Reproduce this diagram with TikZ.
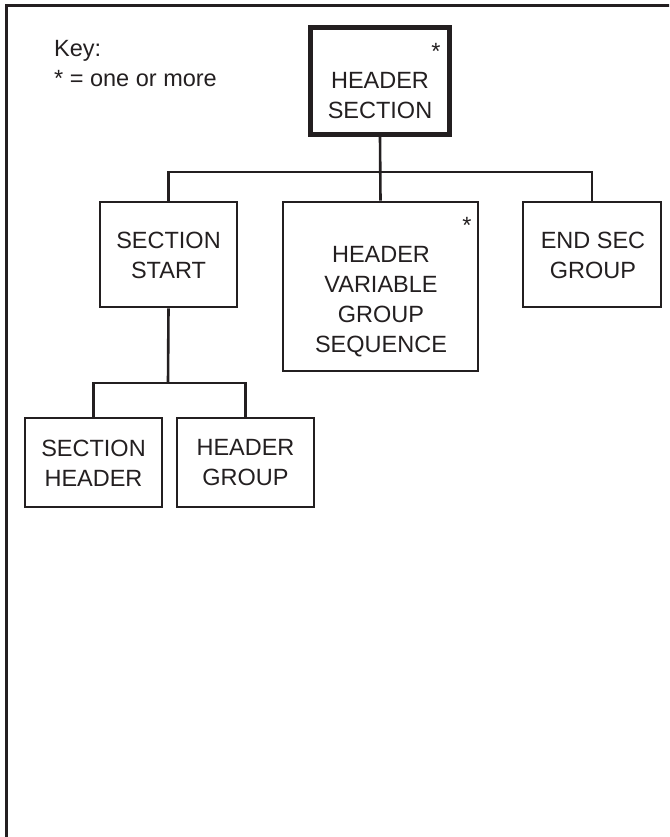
\documentclass[tikz,border=0pt]{standalone}
\usepackage{fontspec}
\setmainfont{Liberation Sans}
\definecolor{ink}{RGB}{35,31,32}
\begin{document}
\begin{tikzpicture}[x=1pt,y=-1pt,
  every node/.style={text=ink},
  boxn/.style={draw=ink, line width=2.6pt, rectangle, inner sep=0pt, minimum width=137pt, minimum height=105pt},
  lbl/.style={align=center, inner sep=0pt, font=\fontsize{23.5}{30}\selectfont},
  star/.style={inner sep=0pt, anchor=base, font=\fontsize{23.5}{28}\selectfont},
  keytxt/.style={inner sep=0pt, anchor=base west, font=\fontsize{23.5}{28}\selectfont},
  conn/.style={draw=ink, line width=2.6pt}]
\useasboundingbox (0,0) rectangle (669,837);
\begin{scope}
\clip (0,0) rectangle (669,837);
\draw[draw=ink, line width=3.2pt] (6.5,845) -- (6.5,5.5) -- (680,5.5);
\end{scope}

% key
\node[keytxt] (key1) at (54,57) {Key:};
\node[keytxt] (key2) at (54,87) {* = one or more};

% boxes
\node[boxn, line width=5pt, minimum width=138.5pt, minimum height=107pt] (hs) at (380,81) {};
\node[boxn] (ss) at (168.5,254.5) {};
\node[boxn, minimum width=195pt, minimum height=169pt] (hvgs) at (380.5,286.5) {};
\node[boxn, minimum width=138pt] (esg) at (592,254.5) {};
\node[boxn, minimum height=89pt] (sh) at (93.5,462.5) {};
\node[boxn, minimum height=89pt] (hg) at (245.5,462.5) {};

% labels
\node[lbl] (hsT) at (380,96) {HEADER\\SECTION};
\node[lbl] (ssT) at (168.5,255) {SECTION\\START};
\node[lbl] (hvgsT) at (381,302) {HEADER\\VARIABLE\\GROUP\\SEQUENCE};
\node[lbl] (esgT) at (593,255) {END SEC\\GROUP};
\node[lbl] (shT) at (93.5,463) {SECTION\\HEADER};
\node[lbl] (hgT) at (245.5,463) {HEADER\\GROUP};
\node[star] (hsS) at (436,59.5) {*};
\node[star] (hvgsS) at (467,233.5) {*};

% connectors
\coordinate (bus1) at (380,172);
\coordinate (bus2) at (168,383);
\draw[conn] (hs.south) -- (hvgs.north);
\draw[conn] (ss.north) |- (bus1) -| (esg.north);
\draw[conn] (ss.south) -- (bus2);
\draw[conn] (sh.north) |- (bus2) -| (hg.north);
\end{tikzpicture}
\end{document}
